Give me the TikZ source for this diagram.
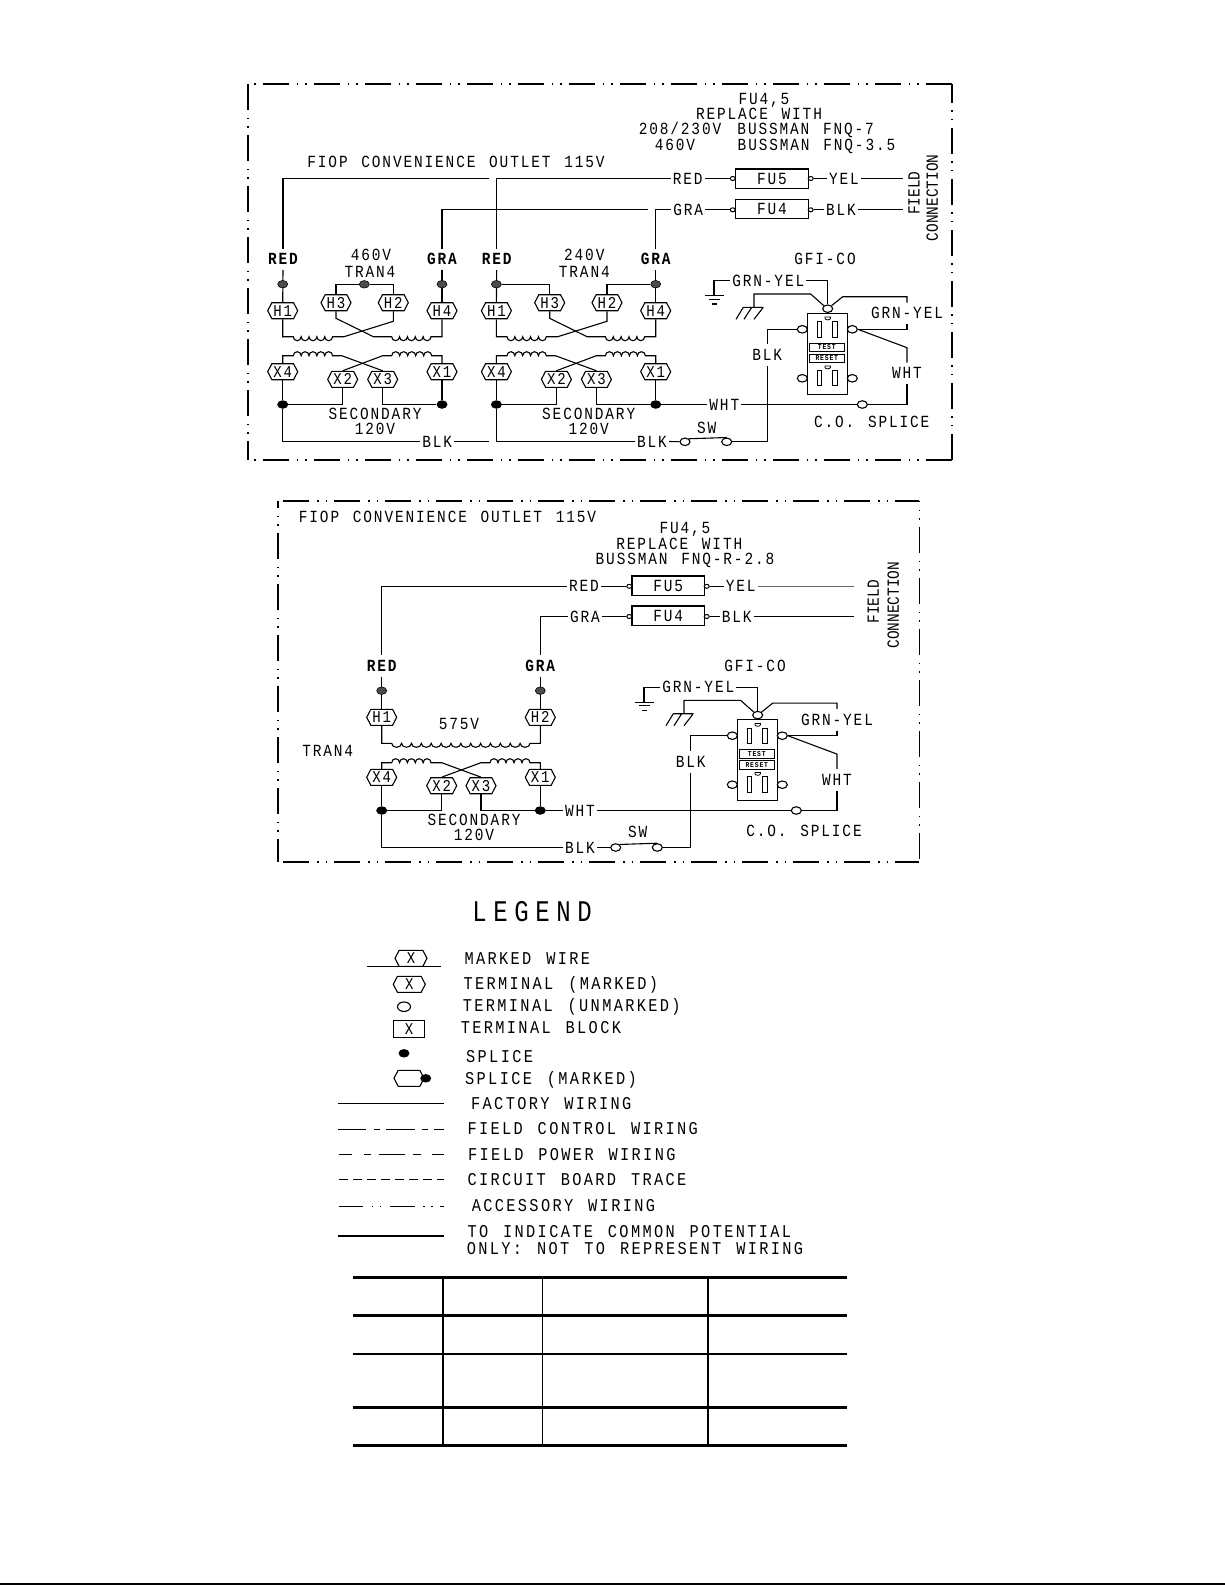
\documentclass[tikz,border=0pt]{standalone}
\usepackage{fontspec}
\usetikzlibrary{shapes.geometric,shapes.symbols}
\newfontfamily\cadfam[LetterSpace=11,FakeStretch=0.85,WordSpace=1.3]{Liberation Mono}
\newfontfamily\cadleg[LetterSpace=13,FakeStretch=0.85,WordSpace=1.3]{Liberation Mono}
\newfontfamily\cadwide[LetterSpace=22,FakeStretch=0.8]{Liberation Mono}
\newfontfamily\cadrot[FakeStretch=0.85]{Liberation Mono}
\newcommand\cadn{\cadfam\fontsize{17}{17}\selectfont}
\newcommand\cadr{\cadrot\fontsize{17}{17}\selectfont}
\newcommand\cadl{\cadleg\fontsize{18}{18}\selectfont}
\newcommand\cadh{\cadfam\fontsize{16.5}{16.5}\selectfont}
\newcommand\cadb{\cadfam\bfseries\fontsize{17}{17}\selectfont}
\newcommand\cadt{\cadfam\bfseries\fontsize{7.5}{7.5}\selectfont}
\newcommand\cadbig{\cadwide\fontsize{30}{30}\selectfont}
\tikzset{
  wire/.style={line width=1.1pt,line join=miter},
  txt/.style={font=\cadn,inner sep=0pt,text height=11.2pt,text depth=0pt},
  rtxt/.style={font=\cadr,inner sep=0pt,text height=11.2pt,text depth=0pt,rotate=90},
  lab/.style={font=\cadn,inner xsep=2pt,inner ysep=5pt,text height=11.2pt,text depth=0pt},
  blab/.style={font=\cadb,inner xsep=2pt,inner ysep=5pt,text height=11.2pt,text depth=0pt},
  legt/.style={font=\cadl,inner sep=0pt,anchor=west,text height=11.9pt,text depth=0pt},
  hex/.style={shape=signal,signal to=west and east,signal pointer angle=125,draw,line width=1.1pt,
     minimum width=30pt,minimum height=16pt,inner sep=0pt,font=\cadh,fill=white},
  fuse/.style={draw,line width=1.1pt,minimum width=72.6pt,minimum height=19.3pt,inner sep=0pt,font=\cadn},
  term/.style={shape=ellipse,draw,line width=1.1pt,fill=white,minimum width=10pt,minimum height=7.5pt,inner sep=0pt},
  fterm/.style={shape=ellipse,draw,line width=1pt,fill=white,minimum width=5pt,minimum height=4pt,inner sep=0pt},
  spl/.style={shape=ellipse,fill=black,minimum width=11pt,minimum height=8.5pt,inner sep=0pt},
  splg/.style={shape=ellipse,draw=black,fill=black!70,line width=0.6pt,minimum width=10pt,minimum height=7.5pt,inner sep=0pt},
  slotb/.style={draw,line width=1pt,minimum width=4.5pt,minimum height=15.7pt,inner sep=0pt},
  tbox/.style={draw,line width=1pt,minimum width=35pt,minimum height=8.4pt,inner sep=0pt,font=\cadt},
  bord/.style={line width=1.9pt,dash pattern=on 26pt off 8pt on 1.4pt off 7pt on 1.4pt off 7.2pt},
  bordb/.style={line width=1.5pt,dash pattern=on 26pt off 8pt on 1.4pt off 7pt on 1.4pt off 7.2pt},
  rule/.style={line width=2.6pt},
}
% coils: #1 = count, #2 = x radius
\newcommand\coildown[2]{foreach \ci in {1,...,#1} { arc[start angle=180,end angle=0,x radius=#2,y radius=4] }}
\newcommand\coilup[2]{foreach \ci in {1,...,#1} { arc[start angle=180,end angle=360,x radius=#2,y radius=4] }}
% one 4-lead transformer; #1 prefix, #2 x shift
\newcommand\xfmr[2]{%
\begin{scope}[shift={(#2,0)},name prefix=#1-]
  \node[blab] (RED) at (283,259.3) {RED};
  \node[blab] (GRA) at (442,259.3) {GRA};
  \node[hex] (H1) at (282.7,310.7) {H1};
  \node[hex] (H3) at (336,302.7) {H3};
  \node[hex] (H2) at (393.3,302.7) {H2};
  \node[hex] (H4) at (442,310.7) {H4};
  \node[hex] (X4) at (282.7,371.7) {X4};
  \node[hex] (X2) at (342.7,379.3) {X2};
  \node[hex] (X3) at (382.7,379.3) {X3};
  \node[hex] (X1) at (442,371.7) {X1};
  \node[txt] (SEC) at (375,414) {SECONDARY};
  \node[txt] (SV) at (375,429) {120V};
  \coordinate (P1) at (293.3,336.7);
  \coordinate (P3) at (344,336.7);
  \coordinate (Hb) at (393.3,321.3);
  \coordinate (Ha) at (336,318.3);
  \coordinate (P3b) at (373.3,336.7);
  \coordinate (P4) at (391.7,336.7);
  \coordinate (S1) at (293.3,355.7);
  \coordinate (S3) at (341.7,355.7);
  \coordinate (S4) at (382.7,355.7);
  \coordinate (S5) at (391.7,355.7);
  \draw[wire] (RED.south) -- (H1.north);
  \draw[wire] (GRA.south) -- (H4.north);
  \draw[wire] (H1.south) |- (P1) \coildown{5}{3.93} -- (P3) -- (Hb) -- (H2.south);
  \draw[wire] (H3.south) -- (Ha) -- (P3b) -- (P4) \coildown{5}{3.93} -| (H4.south);
  \draw[wire] (X4.north) |- (S1) \coilup{5}{3.93} -- (S3) -- (X3.north);
  \draw[wire] (X2.north) -- (S4) -- (S5) \coilup{5}{4} -| (X1.north);
  \node[splg] (SA) at (282.7,284.2) {};
  \node[splg] (SD) at (442,284.2) {};
  \node[spl] (SL) at (282.7,404.5) {};
  \node[spl] (SR) at (442,404.5) {};
  \draw[wire] (X4.south) -- (SL);
  \draw[wire] (X1.south) -- (SR);
  \draw[wire] (X2.south) |- (SL);
  \draw[wire] (X3.south) |- (SR);
\end{scope}}
% GFI receptacle with its ground leads
\newcommand\gfi[3]{%
\begin{scope}[shift={(#2,#3)},name prefix=#1-]
  \node[txt] (GFI) at (825,259) {GFI-CO};
  \node[lab] (GYT) at (768.3,280.7) {GRN-YEL};
  \node[lab] (GY) at (907,313.3) {GRN-YEL};
  \node[lab] (WHTr) at (907,373.3) {WHT};
  \node[draw,line width=1.1pt,minimum width=40pt,minimum height=81pt,inner sep=0pt] (OB) at (827.3,353.8) {};
  \node[slotb] (s1) at (819.7,329.5) {};
  \node[slotb] (s2) at (835,329.5) {};
  \node[slotb] (s3) at (819.7,378) {};
  \node[slotb] (s4) at (835,378) {};
  \node[tbox] (TEST) at (826.8,347.5) {TEST};
  \node[tbox] (RESET) at (826.8,358.5) {RESET};
  \node[term] (OT) at (827.7,308.7) {};
  \node[term] (OTL) at (802.3,329.3) {};
  \node[term] (OTR) at (852.3,329.3) {};
  \node[term] (OBL) at (802.3,378.3) {};
  \node[term] (OBR) at (852.3,378.3) {};
  \draw[line width=0.8pt] (825,317) -- (830.4,317) -- (830.4,318.3) arc[start angle=0,end angle=180,x radius=2.7,y radius=1.6] -- cycle;
  \draw[line width=0.8pt] (825,366) -- (830.4,366) -- (830.4,367.3) arc[start angle=0,end angle=180,x radius=2.7,y radius=1.6] -- cycle;
  \coordinate (gA) at (714,295.7);
  \coordinate (cA) at (754,307.3);
  \coordinate (cB) at (754,294);
  \coordinate (cC) at (810.7,294);
  \coordinate (rA) at (842.7,296.7);
  \coordinate (wA) at (907,347.7);
  \draw[wire] (GYT.west) -| (gA);
  \draw[wire] (705,295.7) -- (724,295.7) (709,299.5) -- (720,299.5) (712,304) -- (717,304);
  \draw[wire] (GYT.east) -| (OT.north);
  \draw[wire] (cA) -- (cB) -- (cC) -- (OT.north west);
  \draw[wire] (743.3,307.3) -- (763.3,307.3) (743.3,307.3) -- (736,319.3) (751.7,307.3) -- (744,319.3) (763.3,307.3) -- (754,319.3);
  \draw[wire] (OT.north east) -- (rA) -| (GY.north);
  \draw[wire] (GY.south) |- (OTR.east);
  \draw[wire] (OTR.east) -- (wA) -- (WHTr.north);
\end{scope}}
\begin{document}
\begin{tikzpicture}[x=1pt,y=-1pt]
\useasboundingbox (0,0) rectangle (1225,1585);
% ---------- first panel border
\coordinate (A1) at (248,84); \coordinate (A2) at (952.3,84);
\coordinate (A3) at (952.3,460); \coordinate (A4) at (248,460);
\draw[bord,dash phase=36pt] (A1) -- (A2);
\draw[bord,dash phase=36pt] (A4) -- (A3);
\draw[bord] (A1) -- (A4);
\draw[bord] (A3) -- (A2);
% texts
\node[txt] (T1) at (456,161.7) {FIOP CONVENIENCE OUTLET 115V};
\node[txt] (T2) at (764,98.5) {FU4,5};
\node[txt] (T3) at (759,114) {REPLACE WITH};
\node[txt] (T4) at (680,129.3) {208/230V};
\node[txt] (T5) at (805.7,129.3) {BUSSMAN FNQ-7};
\node[txt] (T6) at (675,144.7) {460V};
\node[txt] (T7) at (816.5,144.7) {BUSSMAN FNQ-3.5};
\node[rtxt] (T8) at (914,193) {FIELD};
\node[rtxt] (T9) at (932.3,197.7) {CONNECTION};
\node[txt] (T10) at (371,255) {460V};
\node[txt] (T11) at (370,271.7) {TRAN4};
\node[txt] (T12) at (584.3,255) {240V};
\node[txt] (T13) at (584.3,271.7) {TRAN4};
\node[txt] (T14) at (871.7,422.3) {C.O. SPLICE};
\node[txt] (T15) at (706.7,428.3) {SW};
% transformers
\xfmr{a}{0}
\xfmr{b}{213.7}
\node[splg] (a-SB) at (364.3,284.3) {};
\draw[wire] (a-H3.north) |- (a-SB) -| (a-H2.north);
\draw[wire] (b-SA) -| (b-H3.north);
\draw[wire] (b-H2.north) |- (b-SD);
% supply wires
\node[lab] (RED1) at (687.7,178.5) {RED};
\node[lab] (GRA1) at (688.3,209.8) {GRA};
\node[fuse] (FU5a) at (772,178.6) {FU5};
\node[fuse] (FU4a) at (772,208.8) {FU4};
\node[fterm] (f5l) at (732.7,178.5) {};
\node[fterm] (f5r) at (810.7,178.5) {};
\node[fterm] (f4l) at (732.7,209.8) {};
\node[fterm] (f4r) at (810.7,209.8) {};
\node[lab] (YEL1) at (844,178.5) {YEL};
\node[lab] (BLK1) at (841,209.8) {BLK};
\coordinate (g1) at (489.3,178.5);
\coordinate (g2) at (648,209.8);
\coordinate (fc1) at (903,178.5);
\coordinate (fc2) at (903,209.8);
\draw[wire] (a-RED.north) |- (g1);
\draw[wire] (b-RED.north) |- (RED1.west);
\draw[wire] (a-GRA.north) |- (g2);
\draw[wire] (b-GRA.north) |- (GRA1.west);
\draw[wire] (RED1.east) -- (f5l);
\draw[wire] (GRA1.east) -- (f4l);
\draw[wire] (f5r) -- (YEL1.west);
\draw[wire] (f4r) -- (BLK1.west);
\draw[wire] (YEL1.east) -- (fc1);
\draw[wire] (BLK1.east) -- (fc2);
% secondary outputs
\node[lab] (BLK2) at (437.3,441.5) {BLK};
\node[lab] (BLK3) at (652,441.5) {BLK};
\node[lab] (WHT1) at (724.3,404.5) {WHT};
\coordinate (g3) at (489.3,441.5);
\draw[wire] (a-SL) |- (BLK2.west);
\draw[wire] (BLK2.east) -- (g3);
\draw[wire] (b-SL) |- (BLK3.west);
\draw[wire] (b-SR) -- (WHT1.west);
\node[term] (swl) at (685,441.8) {};
\node[term] (swr) at (726.7,441.8) {};
\draw[wire] (BLK3.east) -- (swl);
\draw[wire] (swl.north east) -- (swr.north);
% receptacle
\gfi{g1}{0}{0}
\node[term] (co1) at (862.3,404.5) {};
\draw[wire] (WHT1.east) -- (co1);
\draw[wire] (g1-WHTr.south) |- (co1);
\node[lab] (BLK4) at (767.3,355) {BLK};
\draw[wire] (g1-OTL) -| (BLK4.north);
\draw[wire] (BLK4.south) |- (swr);
% ---------- second panel border
\coordinate (B1) at (278,500.7); \coordinate (B2) at (919.3,500.7);
\coordinate (B3) at (919.3,861.7); \coordinate (B4) at (278,861.7);
\draw[bord,dash phase=45.7pt] (B1) -- (B2);
\draw[bord,dash phase=45.7pt] (B4) -- (B3);
\draw[bordb,dash phase=18.7pt] (B1) -- (B4);
\draw[bordb,dash phase=25pt] (B2) -- (B3);
\node[txt] (U1) at (447.5,517.3) {FIOP CONVENIENCE OUTLET 115V};
\node[txt] (U2) at (685,528.3) {FU4,5};
\node[txt] (U3) at (679.3,544) {REPLACE WITH};
\node[txt] (U4) at (685,559.3) {BUSSMAN FNQ-R-2.8};
\node[rtxt] (U5) at (873.3,601.7) {FIELD};
\node[rtxt] (U6) at (893.3,605) {CONNECTION};
\node[txt] (U7) at (459,724.3) {575V};
\node[txt] (U8) at (327.7,751) {TRAN4};
\node[txt] (U9) at (474,820) {SECONDARY};
\node[txt] (U10) at (474,835) {120V};
\node[txt] (U11) at (804,830.7) {C.O. SPLICE};
\node[txt] (U12) at (637.7,832.3) {SW};
\node[blab] (cRED) at (381.7,665.7) {RED};
\node[blab] (cGRA) at (540.3,665.7) {GRA};
\node[hex] (cH1) at (381.7,717.3) {H1};
\node[hex] (cH2) at (540.3,717.3) {H2};
\node[hex] (cX4) at (381.7,777.3) {X4};
\node[hex] (cX2) at (441.7,785.7) {X2};
\node[hex] (cX3) at (481,785.7) {X3};
\node[hex] (cX1) at (540.3,777.3) {X1};
\node[lab] (RED2) at (584,586.3) {RED};
\node[lab] (GRA2) at (585,616.5) {GRA};
\node[fuse] (FU5b) at (668.3,585.6) {FU5};
\node[fuse] (FU4b) at (668.3,615.6) {FU4};
\node[fterm] (g5l) at (629.3,586.3) {};
\node[fterm] (g5r) at (706.7,586.3) {};
\node[fterm] (g4l) at (629.3,616.5) {};
\node[fterm] (g4r) at (706.7,616.5) {};
\node[lab] (YEL2) at (740.7,586.3) {YEL};
\node[lab] (BLK5) at (736.7,616.5) {BLK};
\coordinate (fc3) at (854,586.3);
\coordinate (fc4) at (854,616.5);
\draw[wire] (cRED.north) |- (RED2.west);
\draw[wire] (cGRA.north) |- (GRA2.west);
\draw[wire] (RED2.east) -- (g5l);
\draw[wire] (GRA2.east) -- (g4l);
\draw[wire] (g5r) -- (YEL2.west);
\draw[wire] (g4r) -- (BLK5.west);
\draw[wire,black!60] (YEL2.east) -- (fc3);
\draw[wire] (BLK5.east) -- (fc4);
\draw[wire] (cRED.south) -- (cH1.north);
\draw[wire] (cGRA.south) -- (cH2.north);
\coordinate (q1) at (391.7,743.3);
\coordinate (r1) at (391.7,762.7);
\coordinate (r2) at (441.7,762.7);
\coordinate (r3) at (481,762.7);
\coordinate (r4) at (490,762.7);
\draw[wire] (cH1.south) |- (q1) \coildown{14}{4.94} -| (cH2.south);
\draw[wire] (cX4.north) |- (r1) \coilup{5}{3.93} -- (r2) -- (cX3.north);
\draw[wire] (cX2.north) -- (r3) -- (r4) \coilup{5}{4} -| (cX1.north);
\node[splg] (cSA) at (381.7,690.7) {};
\node[splg] (cSB) at (540.3,690.7) {};
\node[spl] (cSL) at (381.7,810.5) {};
\node[spl] (cSR) at (540.3,810.5) {};
\draw[wire] (cX4.south) -- (cSL);
\draw[wire] (cX1.south) -- (cSR);
\draw[wire] (cX2.south) |- (cSL);
\draw[wire] (cX3.south) |- (cSR);
\node[lab] (WHT2) at (580,810.5) {WHT};
\node[lab] (BLK6) at (580,847.5) {BLK};
\node[term] (swc) at (615.7,847.5) {};
\node[term] (swd) at (657.3,847.5) {};
\draw[wire] (cSL) |- (BLK6.west);
\draw[wire] (BLK6.east) -- (swc);
\draw[wire] (swc.north east) -- (swd.north);
\draw[wire] (cSR) -- (WHT2.west);
\gfi{g2}{-70}{406.4}
\node[term] (co2) at (796.3,810.5) {};
\draw[wire] (WHT2.east) -- (co2);
\draw[wire] (g2-WHTr.south) |- (co2);
\node[lab] (BLK7) at (690.7,761.7) {BLK};
\draw[wire] (g2-OTL) -| (BLK7.north);
\draw[wire] (BLK7.south) |- (swd);
% ---------- legend
\node[font=\cadbig,inner sep=0pt] (LEG) at (532,911.7) {LEGEND};
\coordinate (m1) at (366.7,966.5); \coordinate (m2) at (441,966.5);
\draw[wire] (m1) -- (m2);
\node[hex,minimum width=32pt] (k1) at (411,958.3) {X};
\node[hex,minimum width=32pt] (k2) at (409.3,984.3) {X};
\node[term,minimum width=13pt,minimum height=9.5pt] (k3) at (404,1006.7) {};
\node[draw,line width=1.1pt,minimum width=31.4pt,minimum height=16.6pt,inner sep=0pt,font=\cadh] (k4) at (409,1029) {X};
\node[spl] (k5) at (404,1053.3) {};
\node[hex] (k6) at (409,1078.3) {};
\node[spl] (k7) at (425.7,1078.3) {};
\node[legt] (L1) at (464.3,958.3) {MARKED WIRE};
\node[legt] (L2) at (463.3,984) {TERMINAL (MARKED)};
\node[legt] (L3) at (462.7,1006) {TERMINAL (UNMARKED)};
\node[legt] (L4) at (460.7,1028) {TERMINAL BLOCK};
\node[legt] (L5) at (466,1056.7) {SPLICE};
\node[legt] (L6) at (465,1078.3) {SPLICE (MARKED)};
\node[legt] (L7) at (471,1103.3) {FACTORY WIRING};
\node[legt] (L8) at (467.3,1129) {FIELD CONTROL WIRING};
\node[legt] (L9) at (468,1154.3) {FIELD POWER WIRING};
\node[legt] (L10) at (467.3,1179.3) {CIRCUIT BOARD TRACE};
\node[legt] (L11) at (471.7,1206) {ACCESSORY WIRING};
\node[legt] (L12) at (467.3,1231.7) {TO INDICATE COMMON POTENTIAL};
\node[legt] (L13) at (466.7,1249) {ONLY: NOT TO REPRESENT WIRING};
\draw[wire] (338.3,1103.5) -- (444,1103.5);
\draw[wire,dash pattern=on 27.7pt off 8pt on 6pt off 6pt on 29pt off 6.7pt on 6.7pt off 5.7pt on 10pt] (338.3,1129.5) -- (444,1129.5);
\draw[wire,dash pattern=on 12.3pt off 12.3pt on 6.7pt off 8.3pt on 26pt off 8.3pt on 7.3pt off 11pt on 12.3pt] (339.3,1154.5) -- (444,1154.5);
\draw[wire,dash pattern=on 9pt off 5pt] (339,1179.5) -- (444,1179.5);
\draw[wire,dash pattern=on 24pt off 8.5pt on 1.5pt off 6.5pt on 1.5pt off 8.5pt on 25pt off 8.5pt on 1.5pt off 6.5pt on 1.5pt off 7.5pt on 4pt] (339.3,1206.5) -- (445,1206.5);
\draw[line width=2.4pt] (338.3,1236) -- (444,1236);
% ---------- empty table
\foreach \yy in {1277.7,1315.7,1354,1407.7,1445.7} \draw[rule] (353,\yy) -- (847,\yy);
\draw[line width=1.4pt] (443,1277.7) -- (443,1445.7);
\draw[line width=0.8pt] (542,1277.7) -- (542,1445.7);
\draw[line width=1.6pt] (708,1277.7) -- (708,1445.7);
\draw[line width=1.6pt] (0,1584) -- (1225,1584);
\end{tikzpicture}
\end{document}
